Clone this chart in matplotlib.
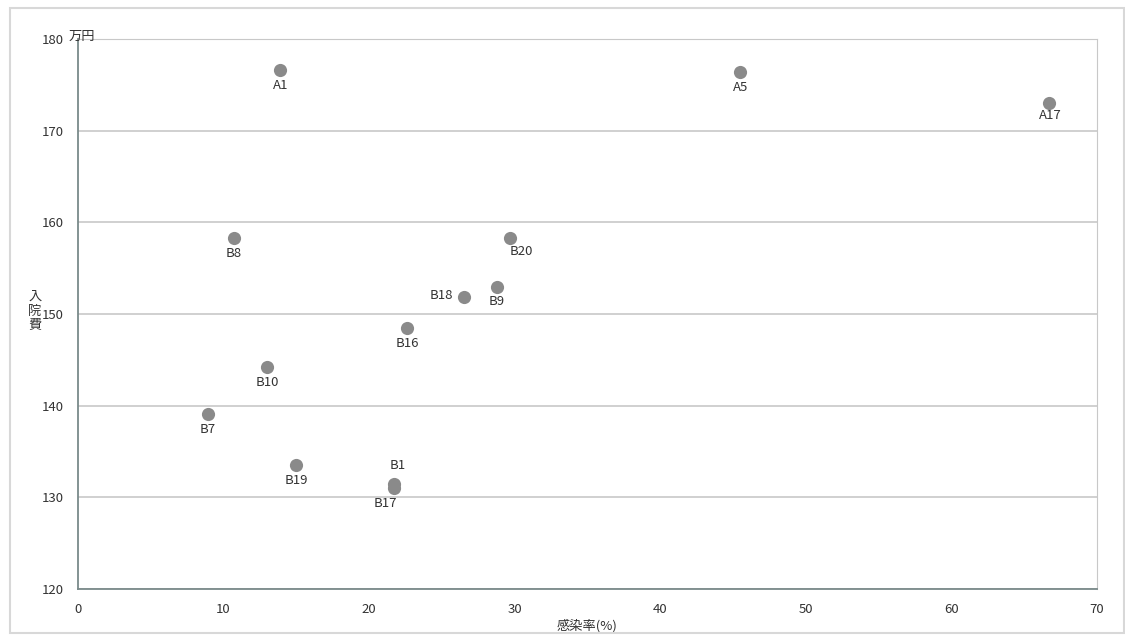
import matplotlib
matplotlib.use('Agg')
import matplotlib.pyplot as plt
from matplotlib.patches import Rectangle

plt.rcParams['font.family'] = ['Noto Sans CJK JP', 'DejaVu Sans']

# ── Data ─────────────────────────────────────────────────────────────────────
labels = ['A1', 'A5', 'A17', 'B8', 'B20', 'B18', 'B9', 'B16',
          'B10', 'B7', 'B19', 'B1', 'B17']
rate   = [13.9, 45.5, 66.7, 10.7, 29.7, 26.5, 28.8, 22.6,
          13.0, 8.9, 15.0, 21.7, 21.7]
cost   = [176.6, 176.4, 173.0, 158.3, 158.3, 151.9, 153.0, 148.5,
          144.2, 139.1, 133.5, 131.5, 131.0]
# label offsets (points)
offs   = {'B18': (-16, 1), 'B1': (3, 13), 'B17': (-6, -11), 'B20': (8, -10),
          'A17': (1, -9)}

fig = plt.figure(figsize=(11.25, 6.35), dpi=100)
fig.patch.set_facecolor('white')
ax = fig.add_axes([0.0693, 0.0724, 0.9057, 0.8662])

ax.scatter(rate, cost, s=90, color='#8a8a8a', zorder=3, linewidths=0)
for lab, x, y in zip(labels, rate, cost):
    dx, dy = offs.get(lab, (0, -11))
    ax.annotate(lab, (x, y), xytext=(dx, dy), textcoords='offset points',
                ha='center', va='center', fontsize=9.5, color='#333333', zorder=4)

ax.set_xlim(0, 70)
ax.set_ylim(120, 180)
ax.set_xticks(range(0, 71, 10))
ax.set_yticks(range(120, 181, 10))
ax.grid(axis='y', color='#c8c8c8', lw=1.2)
ax.set_axisbelow(True)
ax.tick_params(length=0, labelsize=9.5, colors='#333333', pad=10)
for s in ['top', 'right']:
    ax.spines[s].set_color('#c8c8c8')
for s in ['left', 'bottom']:
    ax.spines[s].set_color('#7a8a8a')
    ax.spines[s].set_linewidth(1.3)

ax.text(-0.65, 180.3, '万円', fontsize=9.5, color='#333333', ha='left', va='center')
fig.text(0.031, 0.51, '入\n院\n費', fontsize=9.5, color='#333333',
         ha='center', va='center', linespacing=1.1)
ax.set_xlabel('感染率(%)', fontsize=9.5, color='#333333', labelpad=2)

fig.patches.append(Rectangle((0.009, 0.003), 0.99, 0.985, transform=fig.transFigure,
                             fill=False, edgecolor='#d8d8d8', lw=1.5))

plt.savefig('out.png', dpi=100, facecolor='white')
